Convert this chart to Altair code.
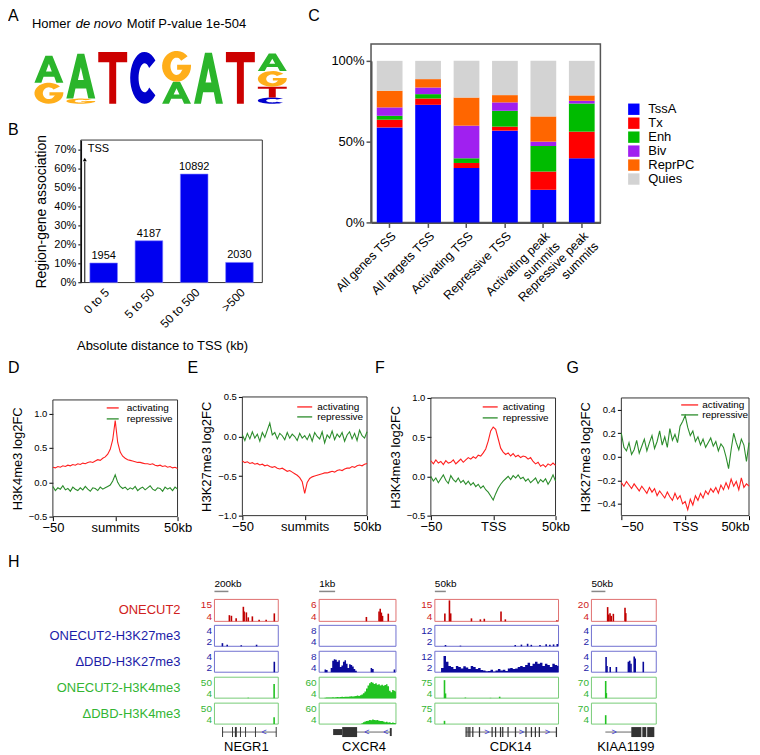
import math
import altair as alt
import pandas as pd

FONT = "Liberation Sans"
W, H = 746, 747
EMPTY = alt.Data(values=[{}])

# ---------------- data ----------------
# A: motif logo, letters bottom -> top per position (bits)
logo_pos = [1, 1, 2, 2, 3, 4, 5, 5, 6, 7, 8, 8, 8, 8]
logo_letter = ["G", "A", "G", "A", "T", "C", "A", "G", "A", "T", "C", "T", "G", "A"]
logo_bits = [0.81, 1.04, 0.20, 1.73, 2.0, 2.0, 0.85, 1.19, 1.97, 2.0, 0.24, 0.42, 0.60, 0.68]
logo_colors = {"A": "#2bb52b", "C": "#0000cc", "G": "#ffae1a", "T": "#cc0000"}

# B: region-gene association
b_cats = ["0 to 5", "5 to 50", "50 to 500", ">500"]
b_pct = [10.3, 22.0, 57.1, 10.6]
b_counts = [1954, 4187, 10892, 2030]

# C: chromatin states (%)
c_cats = ["All genes TSS", "All targets TSS", "Activating TSS", "Repressive TSS",
          "Activating peak summits", "Repressive peak summits"]
states = ["TssA", "Tx", "Enh", "Biv", "ReprPC", "Quies"]
state_colors = ["#0000ff", "#ff0000", "#00bb00", "#a020f0", "#ff6600", "#d3d3d3"]
c_TssA = [58.8, 72.8, 33.7, 56.8, 20.2, 39.7]
c_Tx = [4.8, 3.9, 3.1, 2.5, 11.3, 16.5]
c_Enh = [2.4, 2.7, 2.9, 9.8, 15.8, 17.4]
c_Biv = [5.2, 4.1, 20.2, 5.2, 2.7, 1.7]
c_ReprPC = [10.3, 5.2, 17.4, 4.5, 15.6, 3.3]
c_Quies = [18.5, 11.3, 22.7, 21.2, 34.4, 21.4]

# D-G: profiles, x = -50..50 kb step 2
PX = list(range(-50, 51, 2))
d_act = [0.22, 0.21, 0.23, 0.22, 0.24, 0.23, 0.25, 0.24, 0.26, 0.25,
         0.27, 0.26, 0.28, 0.27, 0.29, 0.30, 0.29, 0.31, 0.33, 0.32,
         0.35, 0.37, 0.41, 0.48, 0.62, 0.90, 0.58, 0.44, 0.38, 0.35, 0.33,
         0.32, 0.31, 0.30, 0.29, 0.29, 0.28, 0.27, 0.27, 0.26, 0.27,
         0.25, 0.24, 0.25, 0.23, 0.24, 0.22, 0.23, 0.21, 0.22, 0.20]
d_rep = [-0.06, -0.12, -0.08, -0.10, -0.05, -0.11, -0.09, -0.13, -0.07, -0.10,
         -0.12, -0.08, -0.11, -0.06, -0.10, -0.13, -0.08, -0.09, -0.12, -0.07,
         -0.10, -0.08, -0.06, -0.04, 0.02, 0.11, 0.00, -0.06, -0.09, -0.07, -0.11,
         -0.08, -0.10, -0.06, -0.12, -0.09, -0.07, -0.11, -0.08, -0.05, -0.10,
         -0.12, -0.08, -0.09, -0.13, -0.07, -0.10, -0.08, -0.12, -0.07, -0.10]
e_act = [-0.31, -0.33, -0.32, -0.34, -0.33, -0.35, -0.34, -0.36, -0.35, -0.37,
         -0.36, -0.38, -0.39, -0.38, -0.40, -0.41, -0.40, -0.42, -0.44, -0.43,
         -0.45, -0.47, -0.49, -0.52, -0.57, -0.72, -0.58, -0.53, -0.51, -0.50, -0.49,
         -0.48, -0.47, -0.46, -0.46, -0.45, -0.44, -0.45, -0.43, -0.42, -0.43,
         -0.41, -0.40, -0.40, -0.38, -0.39, -0.37, -0.36, -0.37, -0.35, -0.34]
e_rep = [0.02, -0.05, 0.04, -0.03, 0.06, -0.02, 0.03, -0.06, 0.05, -0.01,
         0.08, 0.17, 0.02, 0.05, -0.03, 0.04, 0.01, -0.04, 0.05, -0.02,
         0.03, 0.00, -0.05, 0.04, -0.02, 0.01, -0.04, 0.03, -0.06, 0.05, 0.00,
         -0.03, 0.06, -0.08, 0.02, -0.02, 0.07, -0.04, 0.03, -0.01, 0.05,
         -0.06, 0.02, 0.06, -0.03, 0.04, -0.05, 0.08, 0.01, -0.02, 0.06]
f_act = [0.20, 0.16, 0.21, 0.17, 0.19, 0.15, 0.20, 0.17, 0.18, 0.21,
         0.16, 0.19, 0.22, 0.18, 0.21, 0.24, 0.22, 0.25, 0.23, 0.27,
         0.26, 0.30, 0.35, 0.45, 0.58, 0.63, 0.60, 0.48, 0.36, 0.31, 0.28,
         0.30, 0.26, 0.29, 0.25, 0.27, 0.24, 0.26, 0.25, 0.22, 0.24,
         0.19, 0.16, 0.18, 0.13, 0.15, 0.12, 0.16, 0.14, 0.17, 0.14]
f_rep = [0.00, -0.06, -0.02, -0.08, -0.03, 0.02, -0.05, -0.09, 0.01, -0.04,
         -0.07, -0.02, -0.08, -0.05, -0.10, -0.06, -0.11, -0.08, -0.13, -0.10,
         -0.15, -0.12, -0.17, -0.20, -0.25, -0.30, -0.22, -0.15, -0.10, -0.06, -0.03,
         0.00, -0.04, 0.01, -0.02, 0.02, -0.03, -0.01, -0.06, -0.03, -0.08,
         -0.05, -0.02, -0.09, -0.04, -0.07, -0.03, -0.10, -0.05, 0.02, -0.06]
g_act = [-0.22, -0.25, -0.21, -0.24, -0.27, -0.23, -0.26, -0.29, -0.25, -0.28,
         -0.31, -0.26, -0.30, -0.27, -0.33, -0.29, -0.32, -0.35, -0.30, -0.34,
         -0.37, -0.31, -0.36, -0.33, -0.40, -0.38, -0.45, -0.36, -0.41, -0.33, -0.37,
         -0.31, -0.35, -0.29, -0.32, -0.27, -0.30, -0.26, -0.31, -0.24, -0.28,
         -0.22, -0.27, -0.19, -0.25, -0.21, -0.28, -0.18, -0.26, -0.23, -0.25]
g_rep = [0.20, 0.08, 0.05, 0.12, 0.02, 0.06, 0.14, 0.03, 0.09, 0.15,
         0.05, 0.12, 0.18, 0.07, 0.13, 0.22, 0.10, 0.17, 0.08, 0.24,
         0.14, 0.19, 0.12, 0.26, 0.30, 0.35, 0.25, 0.18, 0.22, 0.13, 0.17,
         0.10, 0.15, 0.08, 0.12, 0.16, 0.09, 0.13, 0.05, 0.11, 0.08,
         0.00, -0.10, 0.06, 0.20, 0.12, 0.06, 0.15, 0.10, -0.04, 0.12]

# H: genome tracks, position 0-100 across each locus window
PU = list(range(0, 101, 2))
track_names = ["ONECUT2", "ONECUT2-H3K27me3", "\u0394DBD-H3K27me3", "ONECUT2-H3K4me3", "\u0394DBD-H3K4me3"]
genes = ["NEGR1", "CXCR4", "CDK14", "KIAA1199"]
scalebars = ["200kb", "1kb", "50kb", "50kb"]
track_ranges = [
    [(4, 15), (4, 6), (4, 15), (4, 20)],
    [(2, 4), (4, 8), (2, 12), (2, 4)],
    [(2, 4), (4, 8), (2, 12), (2, 4)],
    [(4, 50), (4, 60), (4, 75), (4, 70)],
    [(4, 50), (4, 60), (4, 75), (4, 70)],
]
negr1_onecut2 = [(23.4, 7.1), (26.6, 6.8), (34, 5.5), (45.3, 11.3), (46.5, 9.0), (50, 8.5), (53, 6.0),
                 (59.4, 6.5), (70, 4.8), (81, 4.8), (93.8, 8.0)]
negr1_k27 = [(12.5, 2.3), (20, 2.15), (42, 2.1), (66, 2.15)]
negr1_dbd_k27 = [(93.8, 3.0)]
negr1_k4 = [(53, 5.0), (93.5, 35.0)]
negr1_dbd_k4 = [(93.5, 19.0)]
cxcr4_onecut2 = [(61.5, 4.4), (78, 4.9), (79.5, 5.15), (81, 4.8), (82.5, 4.5), (90, 4.7)]
cxcr4_dbd_k27 = [4, 4, 4, 4, 4.5, 4.4, 4, 4, 4.8, 6.2, 6.5, 6.4, 6.0, 6.3, 5.0, 5.3, 6.0, 6.3, 5.6, 4.8,
                 5.5, 5.4, 5.1, 4.6, 4.3, 4, 4, 4, 4, 4, 4, 4, 4, 4, 4.8, 4.6,
                 4, 4, 4, 4, 4, 4, 4, 4, 4, 4, 4, 4, 4, 4.5, 4]
cxcr4_k4 = [4, 4, 4, 4, 5, 6, 6, 5.5, 6, 6.5, 6, 6.5, 7, 6.5, 7, 7.5, 7, 8, 7.5, 8,
            8.5, 9, 8.5, 9, 10, 11, 10, 12, 14, 17, 22, 30, 38, 44, 47, 45, 42, 44, 40, 41,
            38, 40, 37, 39, 41, 36, 24, 20, 26, 24, 22]
cxcr4_dbd_k4 = [4] * 28 + [6, 9, 11, 12, 13, 15, 14, 16, 15, 14, 15, 13, 12, 12, 11, 9, 10, 8, 9, 7, 8, 7, 6]
cdk14_onecut2 = [(8.1, 8.0), (11.8, 14.5), (12.8, 8.0), (29.6, 5.5), (36.8, 5.0), (40, 5.3),
                 (53.5, 9.0), (57, 5.0), (98.7, 4.5)]
cdk14_k27 = [(8.6, 2.6), (20.7, 2.3), (65, 2.6), (70, 2.8), (75, 3.2), (78, 2.7), (85, 2.6),
             (90, 3.0), (93, 2.7), (96, 2.9), (99, 3.1)]
cdk14_dbd_k27 = [2, 2, 2, 4, 9.8, 7, 5, 4.5, 3.5, 5, 4.5, 3.8, 4.8, 4.2, 3.5, 5, 4.5, 3.5, 4, 3,
                 2.8, 2.5, 2.6, 3.2, 2.4, 2.8, 3.5, 2.8, 3.2, 2.6, 3.8, 4, 3.5, 3.8, 4.5, 5, 4.5, 5.5, 6.5, 5,
                 6, 7, 6, 6.5, 5, 6, 5.5, 4.5, 6, 5.5, 5]
cdk14_k4 = [(7.8, 65), (8.6, 20), (24.7, 6), (45, 5), (52.4, 9)]
cdk14_dbd_k4 = [(7.8, 15)]
kiaa_onecut2 = [(25, 14.4), (26.5, 9), (28.7, 10), (30.5, 8), (33.8, 9.5), (51.8, 14), (53, 10)]
kiaa_dbd_k27 = [(22.6, 3.45), (24, 2.6), (29, 2.5), (38.5, 2.5), (57, 3.0), (59, 3.1), (61, 2.8),
                (66, 3.5), (67.5, 3.3), (80, 3.0)]
kiaa_k4 = [(22, 58), (23, 20)]
kiaa_dbd_k4 = [(22, 32)]

# gene models: line span, exons (start, end, half-height 0-1), strand arrows
gene_lines = [(12.5, 96.9), (49, 93.5), (25, 98.4), (21.5, 62)]
gene_exons = [
    [(12, 13.5, 1), (27.5, 29, 1), (32, 35, 1), (40, 41.5, 1), (48, 49.5, 1), (63.5, 65, 1), (96, 97.5, 1)],
    [(18.2, 30, 0.6), (30, 49.4, 1), (92, 94.5, 0.8)],
    [(24.8, 25.8, 1), (26.4, 27.4, 1), (27.8, 28.8, 1), (30.2, 31.2, 1), (35.6, 36.6, 1), (45.8, 46.8, 1),
     (48.6, 49.6, 1), (52.6, 53.6, 1), (54.4, 55.4, 1), (58.7, 59.7, 1), (64.7, 65.7, 1), (73.2, 74.2, 1),
     (77.6, 78.6, 1), (80.8, 81.8, 1), (84, 85, 1), (97.8, 98.8, 1)],
    [(61.5, 77, 1), (78.5, 84.6, 1), (86, 97, 1)],
]
gene_arrows = [[(78, "<")], [(62, "<"), (87, "<")], [(42, ">"), (70, ">"), (91, ">")], [(35, ">")]]

# ---------------- helpers ----------------
RED, GREEN = "#ff1f1f", "#2b8c2b"
layers = []


def txt(s, x, y, size=13, color="black", align="left", baseline="middle", angle=None, style=None):
    kw = dict(text=s, fontSize=size, color=color, align=align, baseline=baseline, font=FONT)
    if angle is not None:
        kw["angle"] = angle
    if style:
        kw["fontStyle"] = style
    return alt.Chart(EMPTY).mark_text(**kw).encode(x=alt.value(x), y=alt.value(y))


def seg(x0, y0, x1, y1, color="black", w=1.0):
    return alt.Chart(EMPTY).mark_rule(color=color, strokeWidth=w).encode(
        x=alt.value(x0), y=alt.value(y0), x2=alt.value(x1), y2=alt.value(y1))


def frame(xr, yr, stroke="#333", w=1.0):
    xs = alt.Scale(domain=[0, 1], range=xr, nice=False, zero=False)
    ys = alt.Scale(domain=[0, 1], range=yr, nice=False, zero=False)
    return alt.Chart(EMPTY).mark_rect(fillOpacity=0, stroke=stroke, strokeWidth=w).encode(
        x=alt.XDatum(0, scale=xs, axis=None), x2=alt.X2Datum(1),
        y=alt.YDatum(0, scale=ys, axis=None), y2=alt.Y2Datum(1))


# ---------------- A: logo ----------------
def arc(rx, ry, a0, a1, n=28):
    pts = []
    for i in range(n + 1):
        a = math.radians(a0 + (a1 - a0) * i / n)
        pts.append((rx * math.cos(a), -ry * math.sin(a)))
    return pts


GLYPHS = {
    "T": [[(-1, -1), (1, -1), (1, -0.6), (0.24, -0.6), (0.24, 1), (-0.24, 1), (-0.24, -0.6), (-1, -0.6)]],
    "A": [[(-1, 1), (-0.24, -1), (0.24, -1), (1, 1), (0.52, 1), (0.37, 0.55), (-0.37, 0.55), (-0.52, 1)],
          [(0, -0.4), (0.2, 0.17), (-0.2, 0.17)]],
    "C": [arc(1, 1, 42, 318) + arc(0.42, 0.56, 318, 42)],
    "G": [arc(1, 1, 40, 360) + [(1, -0.1), (0.04, -0.1), (0.04, 0.22), (0.42, 0.22)] + arc(0.42, 0.56, 330, 40)],
}


def signed_area(p):
    n = len(p)
    return sum(p[i][0] * p[(i + 1) % n][1] - p[(i + 1) % n][0] * p[i][1] for i in range(n))


def glyph_path(letter, hw, hh):
    subs = GLYPHS[letter]
    base = signed_area(subs[0])
    out = []
    for k, s in enumerate(subs):
        if k > 0 and signed_area(s) * base > 0:
            s = s[::-1]
        out.append("M" + " L".join(f"{x * hw:.2f},{y * hh:.2f}" for x, y in s) + " Z")
    return " ".join(out)


LOGO_PX_PER_BIT = 26.0
logo_rows, cum = [], {}
for p, l, b in zip(logo_pos, logo_letter, logo_bits):
    base = cum.get(p, 0.0)
    logo_rows.append({"pos": p, "yc": base + b / 2, "col": logo_colors[l],
                      "path": glyph_path(l, 14.5, b * LOGO_PX_PER_BIT / 2)})
    cum[p] = base + b
logo = alt.Chart(pd.DataFrame(logo_rows)).mark_point(filled=True, opacity=1, strokeWidth=0).encode(
    x=alt.X("pos:Q", scale=alt.Scale(domain=[1, 8], range=[41, 265], nice=False, zero=False), axis=None),
    y=alt.Y("yc:Q", scale=alt.Scale(domain=[0, 2], range=[95, 43], nice=False, zero=False), axis=None),
    shape=alt.Shape("path:N", scale=None),
    color=alt.Color("col:N", scale=None),
    size=alt.value(4),
)
layers += [logo,
           txt("Homer", 24, 15, 13), txt("de novo", 68, 15, 13, style="italic"),
           txt("Motif P-value 1e-504", 119, 15, 13)]

# ---------------- B ----------------
dfB = pd.DataFrame({"cat": b_cats, "pct": [v / 100 for v in b_pct], "n": b_counts})
bxs = alt.Scale(domain=b_cats, range=[73, 255], paddingInner=0.39, paddingOuter=0.2)
bys = alt.Scale(domain=[0, 0.75], range=[274.3, 131.4], nice=False, zero=False)
bxa = alt.Axis(orient="bottom", offset=274.3 - H, labelAngle=315, labelFontSize=12, ticks=False,
               domain=False, grid=False, title=None, labelPadding=4, labelOverlap=False)
bya = alt.Axis(orient="left", offset=-73, values=[i / 10 for i in range(8)], format=".0%", labelFontSize=11,
               tickSize=3, domainColor="black", domainWidth=1.5, grid=False, title="Region-gene association",
               titleFontSize=14, titleFontWeight="normal", titlePadding=5, labelOverlap=False)
barsB = alt.Chart(dfB).mark_bar(color="#0000f0", stroke="#8080ff", strokeWidth=0.6).encode(
    x=alt.X("cat:N", sort=b_cats, scale=bxs, axis=bxa), y=alt.Y("pct:Q", scale=bys, axis=bya))
labB = alt.Chart(dfB).mark_text(dy=-7, fontSize=11, font=FONT).encode(
    x=alt.X("cat:N", sort=b_cats, scale=bxs, axis=bxa), y=alt.Y("pct:Q", scale=bys, axis=bya), text="n:Q")
layers += [frame([73, 255], [274.3, 131.4], "#333", 1), alt.layer(barsB, labB),
           seg(77, 274, 77, 153, "black", 1),
           alt.Chart(EMPTY).mark_point(shape="triangle-up", filled=True, size=16, color="black", opacity=1).encode(
               x=alt.value(77), y=alt.value(151)),
           txt("TSS", 80, 140, 11),
           txt("Absolute distance to TSS (kb)", 155, 338, 13, align="center")]

# ---------------- C ----------------
c_vals = [c_TssA, c_Tx, c_Enh, c_Biv, c_ReprPC, c_Quies]
rowsC = []
for si, (s, vals) in enumerate(zip(states, c_vals)):
    for cat, v in zip(c_cats, vals):
        rowsC.append({"cat": cat, "state": s, "frac": v / 100, "ord": si})
stackC = alt.Chart(pd.DataFrame(rowsC)).mark_bar().encode(
    x=alt.X("cat:N", sort=c_cats,
            scale=alt.Scale(domain=c_cats, range=[364, 594], paddingInner=0.33, paddingOuter=0.15),
            axis=alt.Axis(orient="bottom", offset=214 - H, labelAngle=315, labelFontSize=12.5, tickSize=5,
                          tickColor="#555", tickWidth=1.5, domainColor="#555", domainWidth=2, grid=False,
                          title=None, labelPadding=2, labelOverlap=False,
                          labelExpr="indexof(datum.label, 'peak') >= 0 ? split(replace(datum.label, 'peak ', 'peak|'), '|') : datum.label")),
    y=alt.Y("frac:Q", stack="zero", scale=alt.Scale(domain=[0, 1], range=[214, 52], nice=False, zero=False),
            axis=alt.Axis(orient="left", offset=-364, values=[0, 0.5, 1], format=".0%", labelFontSize=13,
                          tickSize=5, tickColor="#555", tickWidth=1.5, domainColor="#555", domainWidth=2,
                          grid=False, title=None, labelPadding=2)),
    color=alt.Color("state:N", sort=states, scale=alt.Scale(domain=states, range=state_colors),
                    legend=alt.Legend(orient="none", legendX=621, legendY=94, title=None, symbolType="square",
                                      symbolSize=130, symbolStrokeWidth=0, labelFontSize=13, labelFont=FONT,
                                      rowPadding=0, labelOffset=8)),
    order=alt.Order("ord:Q", sort="ascending"),
)
layers += [frame([364, 594], [214, 35], "#555", 1.5), stackC]


# ---------------- D-G ----------------
def profile(xr, yr, ydom, yvals, ytitle, mid, act, rep, flush):
    n = len(PX)
    df = pd.DataFrame({"x": PX + PX, "v": act + rep, "s": ["activating"] * n + ["repressive"] * n})
    xs = alt.Scale(domain=[-50, 50], range=xr, nice=False, zero=False)
    ys = alt.Scale(domain=ydom, range=yr, nice=False, zero=False)
    return alt.Chart(df).mark_line(strokeWidth=1.1).encode(
        x=alt.X("x:Q", scale=xs, axis=alt.Axis(
            orient="bottom", offset=yr[0] - H, values=[-50, 0, 50], tickSize=4, labelFontSize=13,
            labelExpr=f"datum.value == 0 ? '{mid}' : (datum.value == 50 ? '50kb' : datum.label)",
            domain=False, grid=False, title=None, labelFlush=flush, labelOverlap=False, labelPadding=1)),
        y=alt.Y("v:Q", scale=ys, axis=alt.Axis(
            orient="left", offset=-xr[0], values=yvals, format=".1f", tickSize=4, labelFontSize=9.5,
            domain=False, grid=False, title=ytitle, titleFontSize=13, titleFontWeight="normal",
            titlePadding=4, labelOverlap=False)),
        color=alt.Color("s:N", scale=alt.Scale(domain=["activating", "repressive"], range=[RED, GREEN]),
                        legend=None),
    )


def mini_legend(x0, x1, xt, y1, y2):
    return [seg(x0, y1, x1, y1, RED, 1.3), txt("activating", xt, y1, 10),
            seg(x0, y2, x1, y2, GREEN, 1.3), txt("repressive", xt, y2, 10)]


panels = [
    ([45, 170], [509, 392], [-0.5, 1.2], [-0.5, 0, 0.5, 1.0], "H3K4me3 log2FC", "summits", d_act, d_rep,
     (99, 111, 119, 400, 411), False),
    ([235, 360], [508, 389], [-1, 0.5], [-1.0, -0.5, 0, 0.5], "H3K27me3 log2FC", "summits", e_act, e_rep,
     (290, 305, 310, 399, 409), False),
    ([424, 549], [508, 390], [-0.5, 1.0], [-0.5, 0, 0.5, 1.0], "H3K4me3 log2FC", "TSS", f_act, f_rep,
     (476, 491, 496, 399, 410), False),
    ([615, 743], [508, 390], [-0.5, 0.5], [-0.4, -0.2, 0, 0.2, 0.4], "H3K27me3 log2FC", "TSS", g_act, g_rep,
     (675, 692, 696, 397, 407), True),
]
for xr, yr, yd, yv, yt, mid, a, r, lg, fl in panels:
    layers.append(frame(xr, yr, "#333", 1))
    layers.append(profile(xr, yr, yd, yv, yt, mid, a, r, fl))
    layers += mini_legend(*lg)

# ---------------- H ----------------
COLS = [[207, 271], [312, 389], [428, 552], [585, 650]]
ROWS = [[614, 592], [639, 618], [665, 644], [691, 670], [717, 696]]
STY = [("#c00000", "#e07070", "#d02020"), ("#0a0a9a", "#7070d0", "#1c1ca8"), ("#0a0a9a", "#7070d0", "#1c1ca8"),
       ("#22c322", "#77cc77", "#33b533"), ("#22c322", "#77cc77", "#33b533")]
TRACKS = [
    [("peaks", negr1_onecut2), ("peaks", cxcr4_onecut2), ("peaks", cdk14_onecut2), ("peaks", kiaa_onecut2)],
    [("peaks", negr1_k27), ("peaks", []), ("peaks", cdk14_k27), ("peaks", [])],
    [("peaks", negr1_dbd_k27), ("prof", cxcr4_dbd_k27), ("prof", cdk14_dbd_k27), ("peaks", kiaa_dbd_k27)],
    [("peaks", negr1_k4), ("prof", cxcr4_k4), ("peaks", cdk14_k4), ("peaks", kiaa_k4)],
    [("peaks", negr1_dbd_k4), ("prof", cxcr4_dbd_k4), ("peaks", cdk14_dbd_k4), ("peaks", kiaa_dbd_k4)],
]


def track(xr, yr, lo, hi, sty, kind, data):
    fill, box, lab = sty
    xs = alt.Scale(domain=[0, 100], range=xr, nice=False, zero=False)
    ys = alt.Scale(domain=[lo, hi], range=yr, nice=False, zero=False)
    yax = alt.Axis(orient="left", offset=-xr[0], values=[lo, hi], labelFontSize=10, labelColor=lab,
                   domain=False, ticks=False, grid=False, title=None, labelPadding=3, labelFlush=True,
                   labelOverlap=False)
    parts = [alt.Chart(EMPTY).mark_rect(fillOpacity=0, stroke=box, strokeWidth=1).encode(
        x=alt.XDatum(0, scale=xs, axis=None), x2=alt.X2Datum(100),
        y=alt.YDatum(lo, scale=ys, axis=yax), y2=alt.Y2Datum(hi))]
    if kind == "peaks" and data:
        df = pd.DataFrame(data, columns=["x", "v"])
        parts.append(alt.Chart(df).mark_rule(color=fill, strokeWidth=1.6).encode(
            x=alt.X("x:Q", scale=xs, axis=None), y=alt.Y("v:Q", scale=ys, axis=yax), y2=alt.Y2Datum(lo)))
    if kind == "prof":
        df = pd.DataFrame({"x": PU, "v": data})
        parts.append(alt.Chart(df).mark_area(color=fill, interpolate="step").encode(
            x=alt.X("x:Q", scale=xs, axis=None), y=alt.Y("v:Q", scale=ys, axis=yax), y2=alt.Y2Datum(lo)))
    return alt.layer(*parts)


for ri, row in enumerate(TRACKS):
    for ci, (kind, data) in enumerate(row):
        lo, hi = track_ranges[ri][ci]
        layers.append(track(COLS[ci], ROWS[ri], lo, hi, STY[ri], kind, data))
    layers.append(txt(track_names[ri], 173, (ROWS[ri][0] + ROWS[ri][1]) / 2, 13, STY[ri][2], align="right"))


def gene_model(ci):
    xs = alt.Scale(domain=[0, 100], range=COLS[ci], nice=False, zero=False)
    ys = alt.Scale(domain=[-1, 1], range=[730, 720], nice=False, zero=False)
    l0, l1 = gene_lines[ci]
    line = alt.Chart(EMPTY).mark_rule(color="#666", strokeWidth=1).encode(
        x=alt.XDatum(l0, scale=xs, axis=None), x2=alt.X2Datum(l1), y=alt.YDatum(0, scale=ys, axis=None))
    ex = pd.DataFrame(gene_exons[ci], columns=["a", "b", "h"])
    ex["nh"] = -ex["h"]
    exons = alt.Chart(ex).mark_rect(color="#333").encode(
        x=alt.X("a:Q", scale=xs, axis=None), x2="b:Q",
        y=alt.Y("h:Q", scale=ys, axis=None), y2="nh:Q")
    ar = pd.DataFrame(gene_arrows[ci], columns=["x", "t"])
    ar["y"] = 0
    arrows = alt.Chart(ar).mark_text(color="#3a3ad0", fontSize=9, font=FONT).encode(
        x=alt.X("x:Q", scale=xs, axis=None), y=alt.Y("y:Q", scale=ys, axis=None), text="t:N")
    return alt.layer(line, exons, arrows)


name_x = [239, 357, 504, 619.5]
for ci in range(4):
    layers.append(gene_model(ci))
    layers.append(txt(genes[ci], name_x[ci], 740, 13, align="center"))
    x0 = COLS[ci][0]
    layers.append(txt(scalebars[ci], x0, 577, 10))
    bar_len = [14, 16, 11, 14][ci]
    layers.append(seg(x0, 584, x0 + bar_len, 584, "#888", 1.5))

# panel letters
for s, x, y in [("A", 0, 7), ("B", 0, 121), ("C", 301, 7), ("D", 0, 360), ("E", 180, 360),
                ("F", 368, 360), ("G", 560, 360), ("H", 0, 554)]:
    layers.append(txt(s, x, y, 16))

chart = alt.layer(*layers).resolve_scale(
    x="independent", y="independent", color="independent", shape="independent"
).resolve_axis(x="independent", y="independent").resolve_legend(color="independent").properties(
    width=W, height=H, padding=0, autosize=alt.AutoSizeParams(type="none")
).configure(font=FONT).configure_axis(
    labelFont=FONT, titleFont=FONT, labelColor="black", titleColor="black", tickColor="black"
).configure_view(stroke=None)

chart.save("out.html", embed_options={"renderer": "svg", "actions": False})
